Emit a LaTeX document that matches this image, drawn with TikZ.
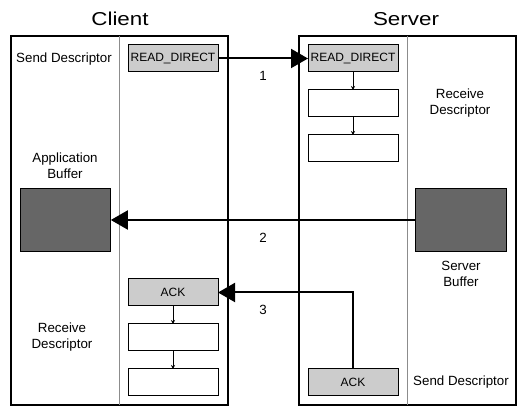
\documentclass[tikz,border=0pt]{standalone}
\usepackage{fontspec}
\setmainfont{Liberation Sans}
\newfontfamily\titlefont[FakeStretch=1.2]{Liberation Sans}
\usetikzlibrary{arrows.meta}
\definecolor{lightbox}{RGB}{204,204,204}
\definecolor{darkbox}{RGB}{102,102,102}
\definecolor{divider}{RGB}{140,140,140}
\tikzset{
  frame/.style={draw=black, line width=1.5pt, minimum width=162.75pt, minimum height=276.75pt, inner sep=0pt, outer sep=0pt},
  divline/.style={draw=divider, line width=0.75pt},
  msgbox/.style={draw=black, fill=lightbox, line width=0.75pt, minimum width=67.5pt, minimum height=20.25pt, inner sep=0pt, outer sep=0pt, font=\fontsize{9}{10}\selectfont},
  emptybox/.style={draw=black, fill=white, line width=0.75pt, minimum width=67.5pt, minimum height=20.25pt, inner sep=0pt, outer sep=0pt},
  bufbox/.style={draw=black, fill=darkbox, line width=0.75pt, minimum width=68pt, minimum height=47.25pt, inner sep=0pt, outer sep=0pt},
  lbl/.style={align=center, font=\fontsize{10}{12}\selectfont, inner sep=0pt},
  ttl/.style={font=\titlefont\fontsize{14}{16}\selectfont, inner sep=0pt},
  num/.style={font=\fontsize{10}{12}\selectfont, inner sep=0pt},
  bigarrow/.style={line width=1.5pt, -{Triangle[length=12.75pt, width=14.25pt]}},
  smallarrow/.style={line width=0.6pt, -{Stealth[length=3pt, width=3pt]}}
}
\begin{document}
\begin{tikzpicture}[x=0.75pt, y=-0.75pt]
\useasboundingbox (0,0) rectangle (526,416);
% frames
\node[frame] (client) at (119.5,220.5) {};
\node[frame] (server) at (407,220.5) {};
\coordinate (cdivtop) at (119,36);
\coordinate (cdivbot) at (119,405);
\coordinate (sdivtop) at (407,36);
\coordinate (sdivbot) at (407,405);
\draw[divline] (cdivtop) -- (cdivbot);
\draw[divline] (sdivtop) -- (sdivbot);
% titles
\node[ttl] (ctitle) at (120,19) {Client};
\node[ttl] (stitle) at (406,19) {Server};
% client side
\node[lbl] (csend) at (64,59) {Send Descriptor};
\node[msgbox] (clird) at (173,58.5) {READ\_DIRECT};
\node[lbl] (capp) at (65,166) {Application\\Buffer};
\node[bufbox] (appbuf) at (65.5,220) {};
\node[msgbox] (cliack) at (173,292.5) {ACK};
\node[emptybox] (cr2) at (173,337.5) {};
\node[emptybox] (cr3) at (173,382.5) {};
\node[lbl] (crecv) at (62,337) {Receive\\Descriptor};
% server side
\node[msgbox] (srvrd) at (353,58.5) {READ\_DIRECT};
\node[emptybox] (sr2) at (353,103.5) {};
\node[emptybox] (sr3) at (353,148.5) {};
\node[lbl] (srecv) at (460,103) {Receive\\Descriptor};
\node[bufbox] (srvbuf) at (461,220) {};
\node[lbl] (sbuf) at (461,274) {Server\\Buffer};
\node[msgbox] (srvack) at (353,382.5) {ACK};
\node[lbl] (ssend) at (461,382) {Send Descriptor};
% small arrows
\draw[smallarrow] (srvrd) -- (sr2);
\draw[smallarrow] (sr2) -- (sr3);
\draw[smallarrow] (cliack) -- (cr2);
\draw[smallarrow] (cr2) -- (cr3);
% main arrows
\draw[bigarrow] (clird.east) -- (srvrd.west);
\draw[bigarrow] (srvbuf.west) -- (appbuf.east);
\draw[bigarrow] (srvack.north) |- (cliack.east);
% numbers
\node[num] (n1) at (263,76) {1};
\node[num] (n2) at (263,238) {2};
\node[num] (n3) at (263,310) {3};
\end{tikzpicture}
\end{document}
